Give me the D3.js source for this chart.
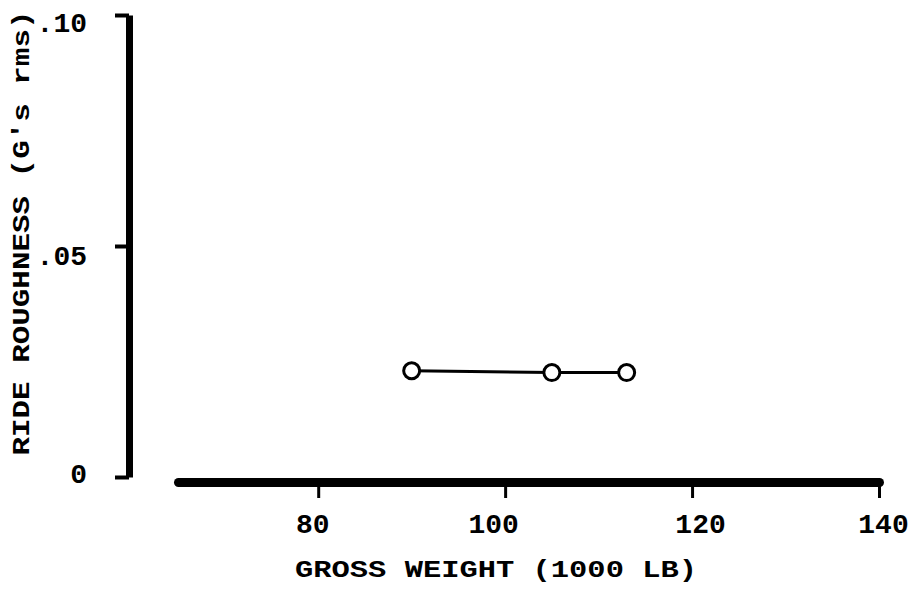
<!DOCTYPE html>
<html>
<head>
<meta charset="utf-8">
<script src="https://cdn.jsdelivr.net/npm/d3@7"></script>
<style>
  html, body { margin: 0; padding: 0; background: #fff; }
  svg { display: block; }
</style>
</head>
<body>
<svg id="chart" width="917" height="591"></svg>
<script>
// ---- data ----
const grossWeight = [90, 105, 113];           // 1000 lb
const rideRoughness = [0.023, 0.0226, 0.0226]; // G's rms
const xTicks = [80, 100, 120, 140];
const xTickLabels = ["80", "100", "120", "140"];
const yTicks = [0, 0.05, 0.10];
const yTickLabels = ["0", ".05", ".10"];
const xTitle = "GROSS WEIGHT (1000 LB)";
const yTitle = "RIDE ROUGHNESS (G's rms)";

const svg = d3.select("#chart");
const font = "'Liberation Mono', 'DejaVu Sans Mono', monospace";

const x = d3.scaleLinear().domain([65, 140]).range([178, 879]);
const y = d3.scaleLinear().domain([0, 0.10]).range([477, 15]);

// ---- y axis ----
const yAxis = d3.axisLeft(y)
  .tickValues(yTicks)
  .tickSize(14)
  .tickSizeOuter(0)
  .tickPadding(28)
  .tickFormat((d, i) => yTickLabels[i]);
const gy = svg.append("g").attr("transform", "translate(129,0)").call(yAxis);
gy.select(".domain").attr("stroke", "#000").attr("stroke-width", 7);
gy.selectAll(".tick line").attr("stroke", "#000").attr("stroke-width", 4);
const yDy = [-4, 9, 7];
gy.selectAll(".tick text")
  .attr("fill", "#000")
  .attr("font-family", font)
  .attr("font-weight", "bold")
  .attr("font-size", 28)
  .attr("dy", (d, i) => (yDy[i] + 9) + "px");

// ---- x axis ----
const xAxis = d3.axisBottom(x)
  .tickValues(xTicks)
  .tickSize(16)
  .tickSizeOuter(0)
  .tickFormat((d, i) => xTickLabels[i]);
const gx = svg.append("g").attr("transform", "translate(0,482)").call(xAxis);
gx.select(".domain")
  .attr("stroke", "#000")
  .attr("stroke-width", 9)
  .attr("stroke-linecap", "round");
gx.selectAll(".tick line").attr("stroke", "#000").attr("stroke-width", 3);
const xDx = [-6, -12, 8, 4];
gx.selectAll(".tick text")
  .attr("fill", "#000")
  .attr("font-family", font)
  .attr("font-weight", "bold")
  .attr("font-size", 28)
  .attr("y", 51)
  .attr("dy", 0)
  .attr("dx", (d, i) => xDx[i]);

// ---- axis titles ----
svg.append("text")
  .attr("x", 496).attr("y", 577)
  .attr("text-anchor", "middle")
  .attr("font-family", font)
  .attr("font-weight", "bold")
  .attr("font-size", 24)
  .attr("textLength", 402)
  .attr("lengthAdjust", "spacingAndGlyphs")
  .text(xTitle);

svg.append("text")
  .attr("transform", "translate(29,233) rotate(-90)")
  .attr("text-anchor", "middle")
  .attr("font-family", font)
  .attr("font-weight", "bold")
  .attr("font-size", 23)
  .attr("textLength", 445)
  .attr("lengthAdjust", "spacingAndGlyphs")
  .text(yTitle);

// ---- series ----
const pts = grossWeight.map((g, i) => ({ g, r: rideRoughness[i] }));
svg.append("path")
  .datum(pts)
  .attr("fill", "none")
  .attr("stroke", "#000")
  .attr("stroke-width", 3)
  .attr("d", d3.line().x(d => x(d.g)).y(d => y(d.r)));

svg.selectAll("circle.pt")
  .data(pts)
  .join("circle")
  .attr("class", "pt")
  .attr("cx", d => x(d.g))
  .attr("cy", d => y(d.r))
  .attr("r", 8)
  .attr("fill", "#fff")
  .attr("stroke", "#000")
  .attr("stroke-width", 3);
</script>
</body>
</html>
